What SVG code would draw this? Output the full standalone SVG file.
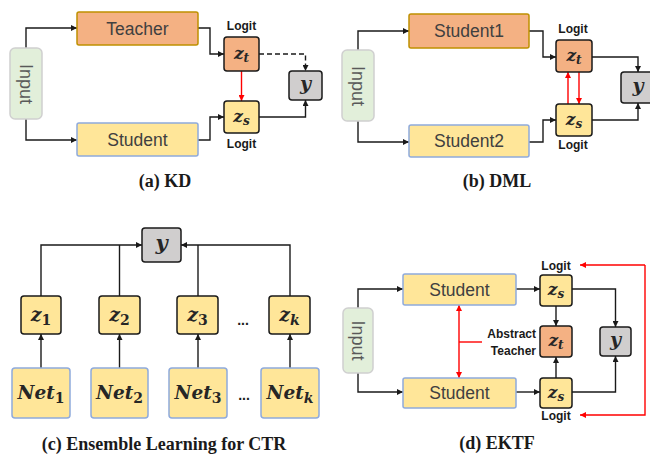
<svg xmlns="http://www.w3.org/2000/svg" width="650" height="455" viewBox="0 0 650 455">
<defs>
<style>
.inp{fill:#e2efda;stroke:#d0d0d0;stroke-width:1.5}
.org{fill:#f4b183;stroke:#bf9000;stroke-width:1.5}
.yel{fill:#ffe699;stroke:#8faadc;stroke-width:1.5}
.zo{fill:#f4b183;stroke:#1a1a1a;stroke-width:1.5}
.zy{fill:#ffe699;stroke:#1a1a1a;stroke-width:1.5}
.gy{fill:#d0cece;stroke:#1a1a1a;stroke-width:1.5}
.lbl{font-family:"Liberation Sans",Arial,sans-serif;font-size:17.5px;fill:#404040;text-anchor:middle}
.in{font-family:"Liberation Sans",Arial,sans-serif;font-size:18px;fill:#595959;text-anchor:middle}
.lg{font-family:"Liberation Sans",Arial,sans-serif;font-size:12px;font-weight:bold;fill:#1a1a1a;text-anchor:middle}
.m{font-family:"DejaVu Serif",serif;font-weight:bold;font-style:italic;fill:#262626;text-anchor:middle}
.cap{font-family:"Liberation Serif","Times New Roman",serif;font-size:18px;font-weight:bold;fill:#1a1a1a;text-anchor:middle}
.c{fill:none;stroke:#1a1a1a;stroke-width:1.4}
.r{fill:none;stroke:#ff0000;stroke-width:1.4}
.dots{font-family:"Liberation Sans",Arial,sans-serif;font-size:14px;font-weight:bold;fill:#1a1a1a;text-anchor:middle}
</style>
<marker id="ah" viewBox="0 0 10 10" refX="10" refY="5" markerWidth="6" markerHeight="6" markerUnits="userSpaceOnUse" orient="auto">
<path d="M0,0 L10,5 L0,10 z" fill="#1a1a1a"/>
</marker>
<marker id="ar" viewBox="0 0 10 10" refX="10" refY="5" markerWidth="6" markerHeight="6" markerUnits="userSpaceOnUse" orient="auto">
<path d="M0,0 L10,5 L0,10 z" fill="#ff0000"/>
</marker>
<marker id="ars" viewBox="0 0 10 10" refX="10" refY="5" markerWidth="6" markerHeight="6" markerUnits="userSpaceOnUse" orient="auto-start-reverse">
<path d="M0,0 L10,5 L0,10 z" fill="#ff0000"/>
</marker>
</defs>
<rect width="650" height="455" fill="#ffffff"/>

<g id="connectors">
<!-- (a) -->
<path class="c" d="M26,48 V28 H77" marker-end="url(#ah)"/>
<path class="c" d="M26,119 V140 H77" marker-end="url(#ah)"/>
<path class="c" d="M198,28 H210 V54 H224" marker-end="url(#ah)"/>
<path class="c" d="M198,140 H210 V117 H224" marker-end="url(#ah)"/>
<path class="r" d="M241.5,71 V101" marker-end="url(#ar)"/>
<path class="c" d="M259,54 H305.5 V71" stroke-dasharray="5,3" marker-end="url(#ah)"/>
<path class="c" d="M259,117 H305.5 V100" marker-end="url(#ah)"/>
<!-- (b) -->
<path class="c" d="M358,50 V31 H409" marker-end="url(#ah)"/>
<path class="c" d="M358,121 V142 H409" marker-end="url(#ah)"/>
<path class="c" d="M529,31 H543 V57 H556" marker-end="url(#ah)"/>
<path class="c" d="M529,142 H543 V120 H556" marker-end="url(#ah)"/>
<path class="r" d="M568,104 V72" marker-end="url(#ar)"/>
<path class="r" d="M579,72 V104" marker-end="url(#ar)"/>
<path class="c" d="M592,57 H638 V72" marker-end="url(#ah)"/>
<path class="c" d="M592,120 H638 V103" marker-end="url(#ah)"/>
<!-- (c) -->
<path class="c" d="M41,368 V334" marker-end="url(#ah)"/>
<path class="c" d="M119.5,368 V334" marker-end="url(#ah)"/>
<path class="c" d="M198,368 V334" marker-end="url(#ah)"/>
<path class="c" d="M290,368 V334" marker-end="url(#ah)"/>
<path class="c" d="M41,296 V245 H142" marker-end="url(#ah)"/>
<path class="c" d="M119.5,296 V245"/>
<path class="c" d="M198,296 V245"/>
<path class="c" d="M290,296 V245 H181" marker-end="url(#ah)"/>
<!-- (d) -->
<path class="c" d="M358,308 V289 H403" marker-end="url(#ah)"/>
<path class="c" d="M358,373 V392 H403" marker-end="url(#ah)"/>
<path class="c" d="M516,289 H540" marker-end="url(#ah)"/>
<path class="c" d="M516,392 H540" marker-end="url(#ah)"/>
<path class="c" d="M556,306 V326" marker-end="url(#ah)"/>
<path class="c" d="M556,378 V357" marker-end="url(#ah)"/>
<path class="c" d="M572,289 H615.5 V327" marker-end="url(#ah)"/>
<path class="c" d="M572,392 H615.5 V356" marker-end="url(#ah)"/>
<path class="r" d="M645,265 H580" marker-end="url(#ar)"/>
<path class="r" d="M645,265 V415 H580" marker-end="url(#ar)"/>
<path class="r" d="M459,305 V378" marker-start="url(#ars)" marker-end="url(#ars)"/>
<path class="r" d="M459,342 H482"/>
</g>

<!-- (a) KD -->
<g id="a-input"><rect class="inp" x="10" y="48" width="32" height="71" rx="5"/><text class="in" transform="translate(26,84) rotate(90)" y="6">Input</text></g>
<g id="a-teacher"><rect class="org" x="77" y="12" width="121" height="33" rx="2"/><text class="lbl" x="137.5" y="35">Teacher</text></g>
<g id="a-student"><rect class="yel" x="77" y="123" width="121" height="33" rx="2"/><text class="lbl" x="137.5" y="146">Student</text></g>
<g id="a-zt"><rect class="zo" x="224" y="37" width="35" height="34" rx="3"/><text class="m" x="241.5" y="59" font-size="17">z<tspan font-size="12" dy="3">t</tspan></text><text class="lg" x="241.5" y="30">Logit</text></g>
<g id="a-zs"><rect class="zy" x="224" y="101" width="35" height="32" rx="3"/><text class="m" x="241.5" y="122" font-size="17">z<tspan font-size="12" dy="3">s</tspan></text><text class="lg" x="241.5" y="148">Logit</text></g>
<g id="a-y"><rect class="gy" x="289" y="71" width="33" height="29" rx="3"/><text class="m" x="305.5" y="90" font-size="19">y</text></g>
<text class="cap" x="165" y="187">(a) KD</text>

<!-- (b) DML -->
<g id="b-input"><rect class="inp" x="342" y="50" width="32" height="71" rx="5"/><text class="in" transform="translate(358,86) rotate(90)" y="6">Input</text></g>
<g id="b-student1"><rect class="org" x="409" y="14" width="120" height="34" rx="2"/><text class="lbl" x="469" y="37">Student1</text></g>
<g id="b-student2"><rect class="yel" x="409" y="125" width="120" height="32" rx="2"/><text class="lbl" x="469" y="147">Student2</text></g>
<g id="b-zt"><rect class="zo" x="556" y="40" width="36" height="32" rx="3"/><text class="m" x="574" y="61" font-size="17">z<tspan font-size="12" dy="3">t</tspan></text><text class="lg" x="573" y="33">Logit</text></g>
<g id="b-zs"><rect class="zy" x="556" y="104" width="36" height="32" rx="3"/><text class="m" x="574" y="125" font-size="17">z<tspan font-size="12" dy="3">s</tspan></text><text class="lg" x="573" y="149">Logit</text></g>
<g id="b-y"><rect class="gy" x="621" y="72" width="34" height="31" rx="3"/><text class="m" x="638" y="92" font-size="19">y</text></g>
<text class="cap" x="497" y="187">(b) DML</text>

<!-- (c) Ensemble -->
<g id="c-y"><rect class="gy" x="142" y="228" width="39" height="34" rx="3"/><text class="m" x="161.5" y="250" font-size="21">y</text></g>
<g id="c-z1"><rect class="zy" x="21" y="296" width="40" height="38" rx="3"/><text class="m" x="41" y="321" font-size="19">z<tspan font-size="14" dy="4" font-style="normal">1</tspan></text></g>
<g id="c-z2"><rect class="zy" x="99" y="296" width="41" height="38" rx="3"/><text class="m" x="119.5" y="321" font-size="19">z<tspan font-size="14" dy="4" font-style="normal">2</tspan></text></g>
<g id="c-z3"><rect class="zy" x="177" y="296" width="41" height="38" rx="3"/><text class="m" x="197.5" y="321" font-size="19">z<tspan font-size="14" dy="4" font-style="normal">3</tspan></text></g>
<g id="c-zk"><rect class="zy" x="269" y="296" width="41" height="38" rx="3"/><text class="m" x="289.5" y="321" font-size="19">z<tspan font-size="14" dy="4">k</tspan></text></g>
<g id="c-net1"><rect class="yel" x="12" y="368" width="58" height="50" rx="3"/><text class="m" x="41" y="399" font-size="18.5">Net<tspan font-size="14" dy="4" font-style="normal">1</tspan></text></g>
<g id="c-net2"><rect class="yel" x="91" y="368" width="57" height="50" rx="3"/><text class="m" x="119.5" y="399" font-size="18.5">Net<tspan font-size="14" dy="4" font-style="normal">2</tspan></text></g>
<g id="c-net3"><rect class="yel" x="169" y="368" width="58" height="50" rx="3"/><text class="m" x="198" y="399" font-size="18.5">Net<tspan font-size="14" dy="4" font-style="normal">3</tspan></text></g>
<g id="c-netk"><rect class="yel" x="261" y="368" width="58" height="50" rx="3"/><text class="m" x="290" y="399" font-size="18.5">Net<tspan font-size="14" dy="4">k</tspan></text></g>
<text class="dots" x="243" y="325">...</text>
<text class="dots" x="244" y="400">...</text>
<text class="cap" x="164" y="450">(c) Ensemble Learning for CTR</text>

<!-- (d) EKTF -->
<g id="d-input"><rect class="inp" x="343" y="308" width="30" height="65" rx="5"/><text class="in" transform="translate(358,340.5) rotate(90)" y="6">Input</text></g>
<g id="d-student1"><rect class="yel" x="403" y="274" width="113" height="31" rx="2"/><text class="lbl" x="459.5" y="296">Student</text></g>
<g id="d-student2"><rect class="yel" x="403" y="378" width="113" height="30" rx="2"/><text class="lbl" x="459.5" y="399">Student</text></g>
<g id="d-zs1"><rect class="zy" x="540" y="275" width="32" height="31" rx="3"/><text class="m" x="556" y="295" font-size="17">z<tspan font-size="12" dy="3">s</tspan></text><text class="lg" x="556" y="270">Logit</text></g>
<g id="d-zt"><rect class="zo" x="540" y="326" width="32" height="31" rx="3"/><text class="m" x="556" y="346" font-size="17">z<tspan font-size="12" dy="3">t</tspan></text></g>
<g id="d-zs2"><rect class="zy" x="540" y="378" width="32" height="30" rx="3"/><text class="m" x="556" y="398" font-size="17">z<tspan font-size="12" dy="3">s</tspan></text><text class="lg" x="556" y="420">Logit</text></g>
<g id="d-teacher-label"><text class="lg" x="536" y="338" style="text-anchor:end">Abstract</text><text class="lg" x="536" y="355" style="text-anchor:end">Teacher</text></g>
<g id="d-y"><rect class="gy" x="600" y="327" width="31" height="29" rx="3"/><text class="m" x="615.5" y="346" font-size="19">y</text></g>
<text class="cap" x="497" y="449">(d) EKTF</text>
</svg>
